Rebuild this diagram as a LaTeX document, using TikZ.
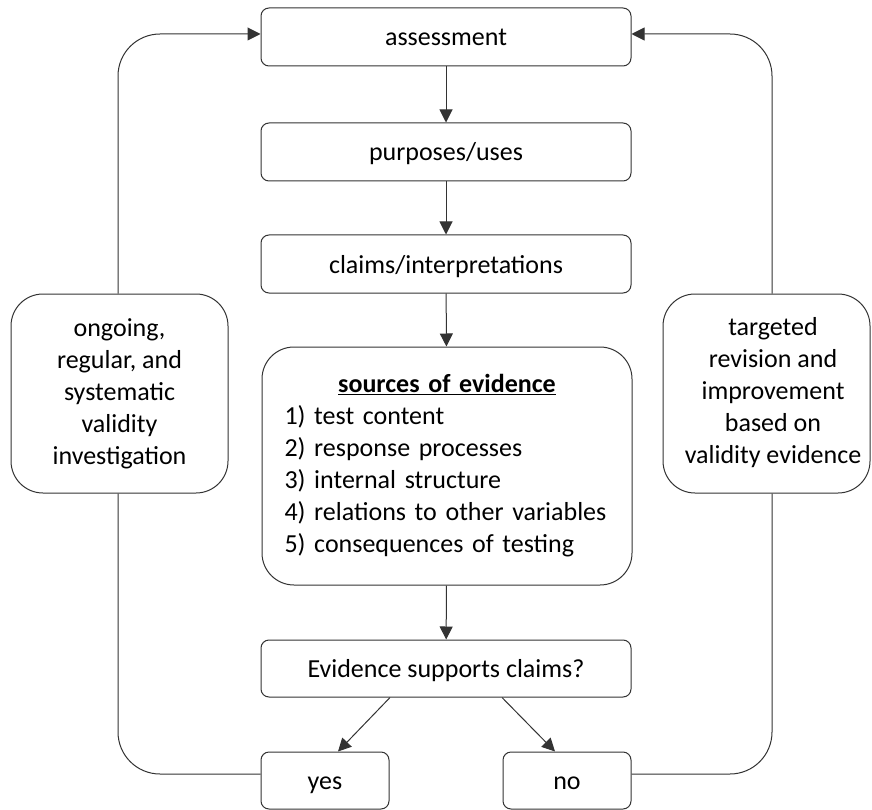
\documentclass[tikz,border=0pt]{standalone}
\usepackage{fontspec}
\setmainfont{Carlito}
\usetikzlibrary{arrows.meta}

\tikzset{
  box/.style={draw=black!80, line width=1pt, fill=white, rounded corners=8pt,
    minimum width=370pt, minimum height=58pt, inner sep=0pt,
    font=\fontsize{26}{32}\selectfont},
  onelinebox/.style={box, text height=22pt, text depth=4pt},
  roundbox/.style={box, rounded corners=32pt},
  smallbox/.style={onelinebox, minimum width=128pt, minimum height=57pt},
  conn/.style={draw=black!80, line width=1pt},
  arr/.style={conn, -{Triangle[length=13pt,width=13pt]}},
}

\begin{document}
\begin{tikzpicture}[x=1pt,y=-1pt]
\useasboundingbox (0,0) rectangle (872,810);

% main column
\node[onelinebox] (assess) at (446,37) {assessment};
\node[onelinebox] (purp) at (446,152) {purposes/uses};
\node[onelinebox] (claims) at (446,264) {claims/interpretations};
\node[roundbox, minimum height=238pt, text width=325pt, align=left] (src) at (447,466)
  {\makebox[\linewidth][c]{\underline{\textbf{sources of evidence}}}\\
   1) test content\\
   2) response processes\\
   3) internal structure\\
   4) relations to other variables\\
   5) consequences of testing};
\node[onelinebox, minimum height=57pt] (evid) at (446,668.5) {Evidence supports claims?};
\node[smallbox] (yes) at (325,780.5) {yes};
\node[smallbox] (no) at (567,780.5) {no};

% side boxes of the two feedback loops
\node[roundbox, minimum width=217pt, minimum height=199pt, align=center] (lbox) at (119.5,393.5)
  {ongoing,\\regular, and\\systematic\\validity\\investigation};
\node[roundbox, minimum width=207pt, minimum height=199pt] (rbox) at (766.5,393.5)
  {\hspace{13pt}\begin{tabular}{@{}c@{}}targeted\\revision and\\improvement\\based on\\validity evidence\end{tabular}};

% downward flow
\draw[arr] (assess) -- (purp);
\draw[arr] (purp) -- (claims);
\draw[arr] (claims) -- (src);
\draw[arr] (src) -- (evid);
\draw[arr] ([xshift=-56pt]evid.south) -- ([xshift=13pt]yes.north);
\draw[arr] ([xshift=56pt]evid.south) -- ([xshift=-12pt]no.north);

% left loop: yes -> investigation -> assessment
\draw[conn, rounded corners=42pt] ([yshift=6.5pt]yes.west) -| ([xshift=-1.5pt]lbox.south);
\draw[arr, rounded corners=42pt] ([xshift=-1.5pt]lbox.north) |- ([yshift=3pt]assess.west);

% right loop: no -> revision -> assessment
\draw[conn, rounded corners=42pt] ([yshift=6.5pt]no.east) -| ([xshift=5.5pt]rbox.south);
\draw[arr, rounded corners=42pt] ([xshift=5.5pt]rbox.north) |- ([yshift=3pt]assess.east);
\end{tikzpicture}
\end{document}
